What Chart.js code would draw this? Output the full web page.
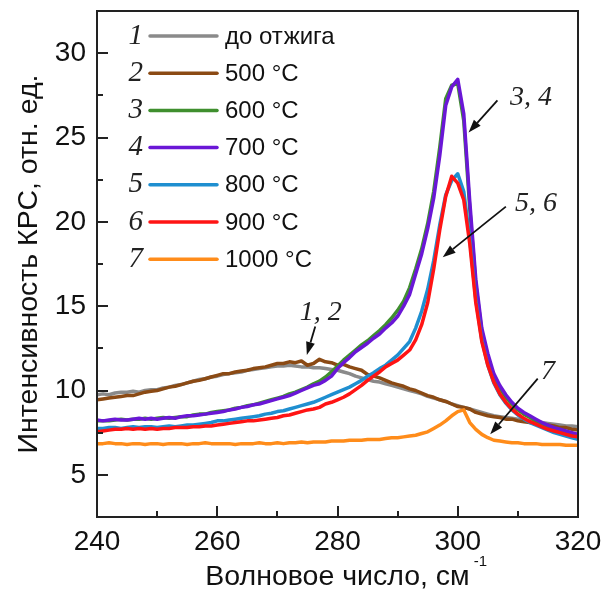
<!DOCTYPE html>
<html>
<head>
<meta charset="utf-8">
<script src="https://cdn.jsdelivr.net/npm/chart.js@4.4.0/dist/chart.umd.min.js"></script>
<style>
  html, body { margin: 0; padding: 0; background: #fff; }
</style>
</head>
<body>
<canvas id="ramanChart" width="605" height="595"></canvas>
<script>
"use strict";

// wavenumber grid, cm^-1
const waveNumbers = [
  240, 241, 242, 243, 244, 245, 246, 247, 248, 249,
  250, 251, 252, 253, 254, 255, 256, 257, 258, 259,
  260, 261, 262, 263, 264, 265, 266, 267, 268, 269,
  270, 271, 272, 273, 274, 275, 276, 277, 278, 279,
  280, 281, 282, 283, 284, 285, 286, 287, 288, 289,
  290, 291, 292, 293, 294, 295, 296, 297, 298, 299,
  300, 301, 302, 303, 304, 305, 306, 307, 308, 309,
  310, 311, 312, 313, 314, 315, 316, 317, 318, 319,
  320
];

// 1 - до отжига
const asGrown = [
  9.75, 9.8, 9.75, 9.85, 9.9, 9.9, 9.95, 9.9, 10.0, 10.05,
  10.05, 10.15, 10.2, 10.3, 10.35, 10.45, 10.55, 10.65, 10.7, 10.8,
  10.85, 10.95, 11.0, 11.05, 11.1, 11.2, 11.25, 11.3, 11.35, 11.4,
  11.45, 11.45, 11.5, 11.45, 11.4, 11.4, 11.35, 11.35, 11.3, 11.25,
  11.2, 11.1, 11.0, 10.85, 10.75, 10.65, 10.55, 10.5, 10.4, 10.3,
  10.2, 10.1, 10.0, 9.9, 9.8, 9.65, 9.55, 9.45, 9.35, 9.2,
  9.1, 9.0, 8.9, 8.8, 8.7, 8.6, 8.5, 8.45, 8.4, 8.35,
  8.3, 8.25, 8.2, 8.15, 8.1, 8.05, 8.0, 7.95, 7.9, 7.9,
  7.85
];
// 2 - 500 °C
const anneal500 = [
  9.45, 9.5, 9.55, 9.6, 9.65, 9.7, 9.7, 9.8, 9.9, 9.95,
  10.0, 10.1, 10.2, 10.25, 10.35, 10.45, 10.55, 10.6, 10.7, 10.8,
  10.9, 11.0, 11.0, 11.1, 11.15, 11.2, 11.3, 11.35, 11.4, 11.5,
  11.6, 11.6, 11.7, 11.65, 11.75, 11.5, 11.6, 11.85, 11.7, 11.65,
  11.5, 11.55, 11.4, 11.3, 11.2, 10.95, 10.85, 10.75, 10.6, 10.45,
  10.35, 10.25, 10.1, 10.0, 9.85, 9.7, 9.6, 9.45, 9.35, 9.2,
  9.05, 9.0, 8.9, 8.7, 8.6, 8.5, 8.45, 8.4, 8.3, 8.3,
  8.2, 8.15, 8.1, 8.05, 8.0, 7.95, 7.9, 7.8, 7.8, 7.7,
  7.65
];
// 3 - 600 °C
const anneal600 = [
  8.2, 8.2, 8.2, 8.25, 8.3, 8.25, 8.3, 8.3, 8.35, 8.3,
  8.35, 8.4, 8.35, 8.4, 8.45, 8.45, 8.55, 8.6, 8.6, 8.7,
  8.75, 8.8, 8.85, 8.95, 9.0, 9.1, 9.15, 9.25, 9.35, 9.45,
  9.55, 9.65, 9.8, 9.9, 10.05, 10.2, 10.4, 10.55, 10.8, 11.1,
  11.45, 11.8, 12.1, 12.4, 12.7, 12.95, 13.25, 13.55, 13.9, 14.3,
  14.75, 15.3, 16.1, 17.2, 18.4, 19.9, 21.8, 24.4, 27.3, 28.1,
  28.2, 26.0, 20.8, 16.3, 13.5, 12.0, 10.85, 10.15, 9.6, 9.2,
  8.85, 8.6, 8.4, 8.2, 8.0, 7.85, 7.7, 7.6, 7.5, 7.4,
  7.3
];
// 4 - 700 °C
const anneal700 = [
  8.25, 8.2, 8.25, 8.3, 8.25, 8.25, 8.3, 8.35, 8.3, 8.35,
  8.3, 8.35, 8.4, 8.35, 8.45, 8.5, 8.5, 8.55, 8.6, 8.65,
  8.7, 8.75, 8.85, 8.9, 9.0, 9.05, 9.15, 9.2, 9.3, 9.4,
  9.5, 9.6, 9.7, 9.85, 10.0, 10.15, 10.3, 10.4, 10.6, 10.85,
  11.3, 11.65, 11.95, 12.3, 12.55, 12.8, 13.1, 13.35, 13.7, 14.0,
  14.4, 15.0, 15.7, 16.9, 18.1, 19.6, 21.4, 23.9, 26.9, 28.0,
  28.45, 26.4, 21.2, 16.6, 13.7, 12.2, 11.0, 10.3, 9.75, 9.3,
  8.95, 8.7, 8.5, 8.3, 8.1, 7.95, 7.8, 7.7, 7.6, 7.5,
  7.4
];
// 5 - 800 °C
const anneal800 = [
  7.75, 7.75, 7.8, 7.8, 7.75, 7.8, 7.85, 7.8, 7.85, 7.85,
  7.8, 7.85, 7.9, 7.85, 7.9, 7.95, 7.95, 8.0, 8.05, 8.1,
  8.2, 8.2, 8.25, 8.3, 8.35, 8.4, 8.45, 8.5, 8.6, 8.65,
  8.75, 8.8, 8.9, 9.0, 9.1, 9.2, 9.3, 9.45, 9.6, 9.75,
  9.9, 10.05, 10.2, 10.4, 10.6, 10.85, 11.05, 11.3, 11.5, 11.8,
  12.1, 12.5, 12.9, 13.7, 14.7, 16.0, 17.7, 19.8, 21.6, 22.45,
  22.85, 21.8, 19.0, 15.4, 13.0, 11.5, 10.45, 9.75, 9.25, 8.85,
  8.55, 8.3, 8.1, 7.95, 7.8, 7.65, 7.5, 7.4, 7.3, 7.2,
  7.1
];
// 6 - 900 °C
const anneal900 = [
  7.55, 7.6, 7.65, 7.7, 7.7, 7.75, 7.7, 7.75, 7.7, 7.75,
  7.7, 7.75, 7.75, 7.8, 7.8, 7.8, 7.85, 7.85, 7.9, 7.9,
  7.95, 8.0, 8.05, 8.1, 8.15, 8.2, 8.2, 8.25, 8.3, 8.35,
  8.4, 8.5, 8.55, 8.65, 8.75, 8.85, 8.9, 9.0, 9.2, 9.3,
  9.45, 9.6, 9.8, 10.05, 10.3, 10.6, 10.85, 11.1, 11.4, 11.6,
  11.8, 12.1, 12.4, 13.0, 13.9, 15.2, 17.2, 19.5, 21.5, 22.7,
  22.3, 21.3, 18.7, 15.2, 12.9, 11.5, 10.5, 9.8, 9.3, 8.9,
  8.6, 8.35, 8.15, 8.0, 7.85, 7.7, 7.6, 7.5, 7.4, 7.3,
  7.25
];
// 7 - 1000 °C
const anneal1000 = [
  6.85, 6.85, 6.9, 6.85, 6.85, 6.8, 6.85, 6.85, 6.8, 6.85,
  6.85, 6.8, 6.85, 6.85, 6.85, 6.8, 6.85, 6.85, 6.9, 6.85,
  6.85, 6.85, 6.85, 6.8, 6.85, 6.85, 6.85, 6.9, 6.85, 6.85,
  6.9, 6.85, 6.9, 6.9, 6.95, 6.9, 6.95, 6.95, 6.95, 7.0,
  7.0, 7.0, 7.05, 7.05, 7.05, 7.1, 7.1, 7.1, 7.15, 7.2,
  7.2, 7.25, 7.3, 7.35, 7.45, 7.55, 7.75, 7.95, 8.2, 8.5,
  8.75, 8.85, 8.1, 7.7, 7.4, 7.2, 7.05, 7.0, 6.95, 6.9,
  6.9, 6.85, 6.85, 6.85, 6.8, 6.8, 6.8, 6.8, 6.75, 6.75,
  6.75
];

const seriesValues = [asGrown, anneal500, anneal600, anneal700, anneal800, anneal900, anneal1000];
const seriesNumbers = ["1", "2", "3", "4", "5", "6", "7"];
const seriesLabels = ["до отжига", "500 °C", "600 °C", "700 °C", "800 °C", "900 °C", "1000 °C"];
const seriesColors = ["#8a8a8a", "#8b4a14", "#3f8f2e", "#6a17d6", "#1f8fd0", "#ff1414", "#ff8c1a"];
const drawOrder = [7, 6, 5, 4, 3, 2, 1]; // lower = drawn on top

const xTicks = [240, 260, 280, 300, 320];
const xMinorTicks = [250, 270, 290, 310];
const yTicks = [5, 10, 15, 20, 25, 30];
const yMinorTicks = [7.5, 12.5, 17.5, 22.5, 27.5];

// annotation labels with arrows (data units)
const noteLabels = ["1, 2", "3, 4", "5, 6", "7"];
const noteTextAt = [[277.2, 14.6], [312.2, 27.35], [313.0, 21.1], [315.0, 11.1]];
const noteArrowFrom = [[276.3, 13.8], [306.6, 27.2], [308.0, 20.9], [313.3, 10.7]];
const noteArrowTo = [[274.9, 12.1], [301.8, 25.3], [297.5, 17.9], [305.4, 7.4]];

const SANS = "'Liberation Sans', Arial, sans-serif";
const SERIF = "'Liberation Serif', 'Times New Roman', serif";
const INK = "#111";
const TITLE_SIZE = 28.5;

//frame + inward ticks
const framePlugin = {
  id: "frame",
  afterDraw(chart) {
    const { ctx, chartArea: a, scales: { x, y } } = chart;
    ctx.save();
    ctx.strokeStyle = "#222";
    ctx.lineWidth = 2;
    ctx.strokeRect(a.left, a.top, a.right - a.left, a.bottom - a.top);
    ctx.beginPath();
    xTicks.forEach((v) => {
      const px = Math.round(x.getPixelForValue(v));
      ctx.moveTo(px, a.bottom);
      ctx.lineTo(px, a.bottom - 11);
    });
    xMinorTicks.forEach((v) => {
      const px = Math.round(x.getPixelForValue(v));
      ctx.moveTo(px, a.bottom);
      ctx.lineTo(px, a.bottom - 6);
    });
    yTicks.forEach((v) => {
      const py = Math.round(y.getPixelForValue(v));
      ctx.moveTo(a.left, py);
      ctx.lineTo(a.left + 11, py);
    });
    yMinorTicks.forEach((v) => {
      const py = Math.round(y.getPixelForValue(v));
      ctx.moveTo(a.left, py);
      ctx.lineTo(a.left + 6, py);
    });
    ctx.stroke();

    // superscript on x title
    ctx.font = TITLE_SIZE + "px " + SANS;
    const w = ctx.measureText(x.options.title.text).width;
    const cx = (a.left + a.right) / 2;
    ctx.font = "15px " + SANS;
    ctx.fillStyle = INK;
    ctx.textBaseline = "middle";
    ctx.textAlign = "left";
    ctx.fillText("-1", cx + w / 2 + 4, 562);
    ctx.restore();
  },
};

//legend drawn inside the plot
const legendPlugin = {
  id: "numberedLegend",
  afterDraw(chart) {
    const { ctx, chartArea: a } = chart;
    ctx.save();
    ctx.textBaseline = "middle";
    seriesLabels.forEach((label, i) => {
      const rowY = a.top + 25 + i * 37.2;
      ctx.font = "italic 29px " + SERIF;
      ctx.fillStyle = "#222";
      ctx.textAlign = "right";
      ctx.fillText(seriesNumbers[i], a.left + 46, rowY);
      ctx.strokeStyle = seriesColors[i];
      ctx.lineWidth = 3.5;
      ctx.lineCap = "round";
      ctx.beginPath();
      ctx.moveTo(a.left + 53, rowY);
      ctx.lineTo(a.left + 120, rowY);
      ctx.stroke();
      ctx.font = "24px " + SANS;
      ctx.fillStyle = INK;
      ctx.textAlign = "left";
      ctx.fillText(label, a.left + 128, rowY + 1);
    });
    ctx.restore();
  },
};

//arrows with curve numbers
const notesPlugin = {
  id: "notes",
  afterDraw(chart) {
    const { ctx, scales: { x, y } } = chart;
    ctx.save();
    noteLabels.forEach((txt, i) => {
      const tx = x.getPixelForValue(noteTextAt[i][0]);
      const ty = y.getPixelForValue(noteTextAt[i][1]);
      ctx.font = "italic 28px " + SERIF;
      ctx.fillStyle = "#222";
      ctx.textAlign = "center";
      ctx.textBaseline = "middle";
      ctx.fillText(txt, tx, ty);

      const x0 = x.getPixelForValue(noteArrowFrom[i][0]);
      const y0 = y.getPixelForValue(noteArrowFrom[i][1]);
      const x1 = x.getPixelForValue(noteArrowTo[i][0]);
      const y1 = y.getPixelForValue(noteArrowTo[i][1]);
      const ang = Math.atan2(y1 - y0, x1 - x0);
      const headLen = 13, headW = 4.5;
      const bx = x1 - headLen * Math.cos(ang);
      const by = y1 - headLen * Math.sin(ang);
      ctx.strokeStyle = "#111";
      ctx.lineWidth = 1.8;
      ctx.beginPath();
      ctx.moveTo(x0, y0);
      ctx.lineTo(bx, by);
      ctx.stroke();
      ctx.fillStyle = "#111";
      ctx.beginPath();
      ctx.moveTo(x1, y1);
      ctx.lineTo(bx + headW * Math.sin(ang), by - headW * Math.cos(ang));
      ctx.lineTo(bx - headW * Math.sin(ang), by + headW * Math.cos(ang));
      ctx.closePath();
      ctx.fill();
    });
    ctx.restore();
  },
};

const datasets = seriesLabels.map((label, i) => ({
  label: label,
  data: waveNumbers.map((wn, j) => ({ x: wn, y: seriesValues[i][j] })),
  borderColor: seriesColors[i],
  backgroundColor: seriesColors[i],
  borderWidth: 3.5,
  pointRadius: 0,
  tension: 0,
  fill: false,
  order: drawOrder[i],
  borderJoinStyle: "round",
}));

const ramanChart = new Chart(document.getElementById("ramanChart"), {
  type: "line",
  data: { datasets },
  options: {
    responsive: false,
    animation: false,
    devicePixelRatio: 1,
    layout: { padding: { top: 11, right: 27, left: 0, bottom: 0 } },
    plugins: { legend: { display: false }, tooltip: { enabled: false } },
    scales: {
      x: {
        type: "linear",
        min: 240,
        max: 320,
        grid: { display: false, drawTicks: false },
        border: { display: false },
        afterBuildTicks: (s) => { s.ticks = xTicks.map((v) => ({ value: v })); },
        afterFit: (s) => {
          s.height = 78;
          s.paddingLeft = 0;
          s.paddingRight = 0;
        },
        ticks: {
          font: { family: SANS, size: 28 },
          color: INK,
          padding: 8,
          maxRotation: 0,
          autoSkip: false,
        },
        title: {
          display: true,
          text: "Волновое число, см",
          font: { family: SANS, size: TITLE_SIZE },
          color: INK,
          padding: { top: 0, bottom: 1 },
        },
      },
      y: {
        min: 2.5,
        max: 32.5,
        grid: { display: false, drawTicks: false },
        border: { display: false },
        afterBuildTicks: (s) => { s.ticks = yTicks.map((v) => ({ value: v })); },
        afterFit: (s) => {
          s.width = 97;
          s.paddingTop = 0;
          s.paddingBottom = 0;
        },
        ticks: {
          font: { family: SANS, size: 28 },
          color: INK,
          padding: 11,
          autoSkip: false,
        },
        title: {
          display: true,
          text: "Интенсивность КРС, отн. ед.",
          font: { family: SANS, size: TITLE_SIZE },
          color: INK,
          padding: { top: 12, bottom: 0 },
        },
      },
    },
  },
  plugins: [framePlugin, legendPlugin, notesPlugin],
});
</script>
</body>
</html>
